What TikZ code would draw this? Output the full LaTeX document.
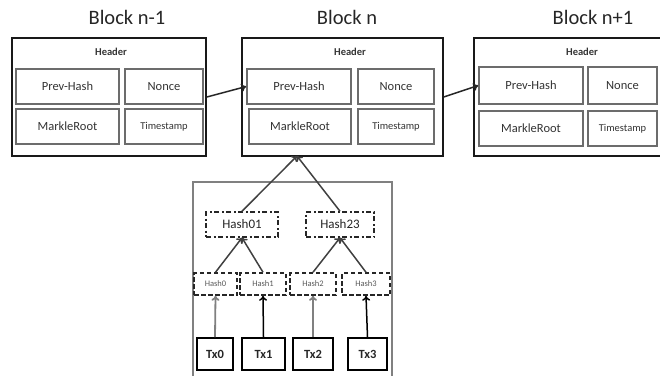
\documentclass[tikz,border=0pt]{standalone}
\usepackage{fontspec}
\setmainfont{Carlito}
\usetikzlibrary{arrows.meta}
\begin{document}
\begin{tikzpicture}[x=1pt,y=-1pt,
  outer/.style={draw=black!90,line width=1.7pt,inner sep=0pt},
  field/.style={draw=gray!85!black,line width=1.6pt,inner sep=0pt,font=\fontsize{12.5}{13}\selectfont,text=black!80},
  tsfont/.style={font=\fontsize{10.5}{11}\selectfont},
  title/.style={font=\fontsize{20.5}{22}\selectfont,text=black!85},
  hdr/.style={font=\bfseries\fontsize{10.5}{12}\selectfont,text=black!80},
  hashbig/.style={draw=black!85,dash pattern=on 5pt off 2.5pt on 2pt off 2.5pt,line width=1.5pt,inner sep=0pt,font=\fontsize{13}{14}\selectfont,text=black!85},
  hashsmall/.style={draw=black!85,dash pattern=on 4.5pt off 2.5pt,line width=1.5pt,inner sep=0pt,font=\fontsize{8.5}{9}\selectfont,text=black!65},
  txbox/.style={draw=black,line width=1.8pt,inner sep=0pt,font=\bfseries\fontsize{12.5}{13}\selectfont,text=black!85},
  arr/.style={-{To[length=5pt,width=8pt]},line width=1.5pt,draw=black!85},
  garr/.style={-{To[length=5pt,width=8pt]},line width=1.8pt,draw=gray}]
\useasboundingbox (0,0) rectangle (660,375);
\clip (0,0) rectangle (660,375);
% titles
\node[title] (t1) at (127,17) {Block n-1};
\node[title] (t2) at (347,17) {Block n};
\node[title] (t3) at (593,17) {Block n+1};
% outer blocks
\node[outer,minimum width=194,minimum height=118] (b1) at (109,97) {};
\node[outer,minimum width=201,minimum height=118] (b2) at (342.5,97) {};
\node[outer,minimum width=216,minimum height=118] (b3) at (582,97) {};
\node[hdr] (h1) at (111,52) {Header};
\node[hdr] (h2) at (350,52) {Header};
\node[hdr] (h3) at (582,52) {Header};
% block n-1 fields
\node[field,minimum width=103,minimum height=35] (ph1) at (67.5,86.5) {Prev-Hash};
\node[field,minimum width=78,minimum height=35] (n1) at (164,86.5) {Nonce};
\node[field,minimum width=103,minimum height=35] (mr1) at (67.5,126.5) {MarkleRoot};
\node[field,tsfont,minimum width=78,minimum height=35] (ts1) at (164,126.5) {Timestamp};
% block n fields
\node[field,minimum width=104,minimum height=35] (ph2) at (299,86.5) {Prev-Hash};
\node[field,minimum width=76,minimum height=35] (n2) at (396,86.5) {Nonce};
\node[field,minimum width=102,minimum height=35] (mr2) at (300,126.5) {MarkleRoot};
\node[field,tsfont,minimum width=76,minimum height=35] (ts2) at (396,126.5) {Timestamp};
% block n+1 fields
\node[field,minimum width=104,minimum height=37] (ph3) at (531,85.5) {Prev-Hash};
\node[field,minimum width=69,minimum height=37] (n3) at (622.5,85.5) {Nonce};
\node[field,minimum width=104,minimum height=35] (mr3) at (531,128.5) {MarkleRoot};
\node[field,tsfont,minimum width=69,minimum height=35] (ts3) at (622.5,128.5) {Timestamp};
% chain arrows
\draw[arr] (b1.east) -- (ph2.west);
\draw[arr] (b2.east) -- (ph3.west);
% merkle tree frame
\node[draw=gray,line width=1.3pt,minimum width=199,minimum height=200,inner sep=0pt] (mt) at (292.5,282) {};
\node[hashbig,minimum width=72,minimum height=25] (h01) at (242,224.5) {Hash01};
\node[hashbig,minimum width=68,minimum height=25] (h23) at (340,224.5) {Hash23};
\node[hashsmall,minimum width=43,minimum height=22] (hs0) at (215.5,284) {Hash0};
\node[hashsmall,minimum width=46,minimum height=22] (hs1) at (263,284) {Hash1};
\node[hashsmall,minimum width=46,minimum height=22] (hs2) at (313,284) {Hash2};
\node[hashsmall,minimum width=48,minimum height=22] (hs3) at (366,284) {Hash3};
\node[txbox,minimum width=36,minimum height=32] (tx0) at (215,354) {Tx0};
\node[txbox,minimum width=43,minimum height=32] (tx1) at (263.5,354) {Tx1};
\node[txbox,minimum width=40,minimum height=32] (tx2) at (313,354) {Tx2};
\node[txbox,minimum width=39,minimum height=32] (tx3) at (367.5,354) {Tx3};
\coordinate (mroot) at (297,156);
% tree arrows
\draw[garr] (tx0.north) -- (hs0.south);
\draw[arr,draw=black] (tx1.north) -- (hs1.south);
\draw[garr] (tx2.north) -- (hs2.south);
\draw[arr,draw=black] (tx3.north) -- (hs3.south);
\draw[arr,draw=black!75] (hs0.north) -- (h01.south);
\draw[arr,draw=black!75] (hs1.north) -- (h01.south);
\draw[arr,draw=black!75] (hs2.north) -- (h23.south);
\draw[arr,draw=black!75] (hs3.north) -- (h23.south);
\draw[arr,draw=black!75] (h01.north) -- (mroot);
\draw[arr,draw=black!75] (h23.north) -- (mroot);
\end{tikzpicture}
\end{document}
